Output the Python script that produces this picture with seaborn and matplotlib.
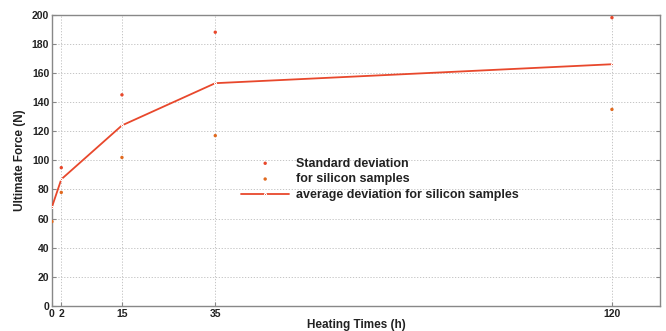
import numpy as np
import pandas as pd
import matplotlib
matplotlib.use("Agg")
import matplotlib.pyplot as plt
import seaborn as sns

# data
hours = [0, 2, 15, 35, 120]
avg_force = [68, 87, 124, 153, 166]
upper_sd = [np.nan, 95, 145, 188, 198]
lower_sd = [58, 78, 102, 117, 135]
y_ticks = list(range(0, 201, 20))

sns.set_style("whitegrid")
plt.rcParams['font.family'] = ['Liberation Sans', 'DejaVu Sans']

df = pd.DataFrame({"hours": hours, "avg": avg_force, "upper": upper_sd, "lower": lower_sd})

fig = plt.figure(figsize=(6.66, 3.31), dpi=100)
ax = fig.add_axes([0.078, 0.0755, 0.913, 0.88])

red = "#e8482c"
sns.scatterplot(data=df, x="hours", y="upper", ax=ax, color=red, s=6, marker="o",
                edgecolor="none", label="Standard deviation", zorder=3)
sns.scatterplot(data=df, x="hours", y="lower", ax=ax, color="#e06a20", s=6, marker="o",
                edgecolor="none", label="for silicon samples", zorder=3)
sns.lineplot(data=df, x="hours", y="avg", ax=ax, color=red, lw=1.3, marker=".",
             markersize=3, label="average deviation for silicon samples", zorder=4)

ax.set_xlim(0, 130.3)
ax.set_ylim(0, 200)
ax.set_xticks(hours)
ax.set_yticks(y_ticks)
ax.grid(True, color="#bbbbbb", linestyle=(0, (1.5, 2)), linewidth=0.6)
for s in ax.spines.values():
    s.set_color("#888888")
    s.set_linewidth(1)
ax.tick_params(axis="both", labelsize=7.5, length=3, color="#888888", direction="in",
               pad=2, right=True, left=True, bottom=True, labelcolor="#222222")
for lbl in ax.get_xticklabels() + ax.get_yticklabels():
    lbl.set_fontweight("bold")
ax.set_xlabel("Heating Times (h)", fontsize=8.5, fontweight="bold", labelpad=0, color="#222222")
ax.set_ylabel("Ultimate Force (N)", fontsize=8.5, fontweight="bold", labelpad=4, color="#222222")

leg = ax.legend(loc="center", bbox_to_anchor=(0.54, 0.435), frameon=False,
                handlelength=3.8, handletextpad=0.6, borderpad=0, labelspacing=0.3,
                prop={"weight": "bold", "size": 9})
for t in leg.get_texts():
    t.set_color("#222222")

fig.savefig("out.png", dpi=100)
